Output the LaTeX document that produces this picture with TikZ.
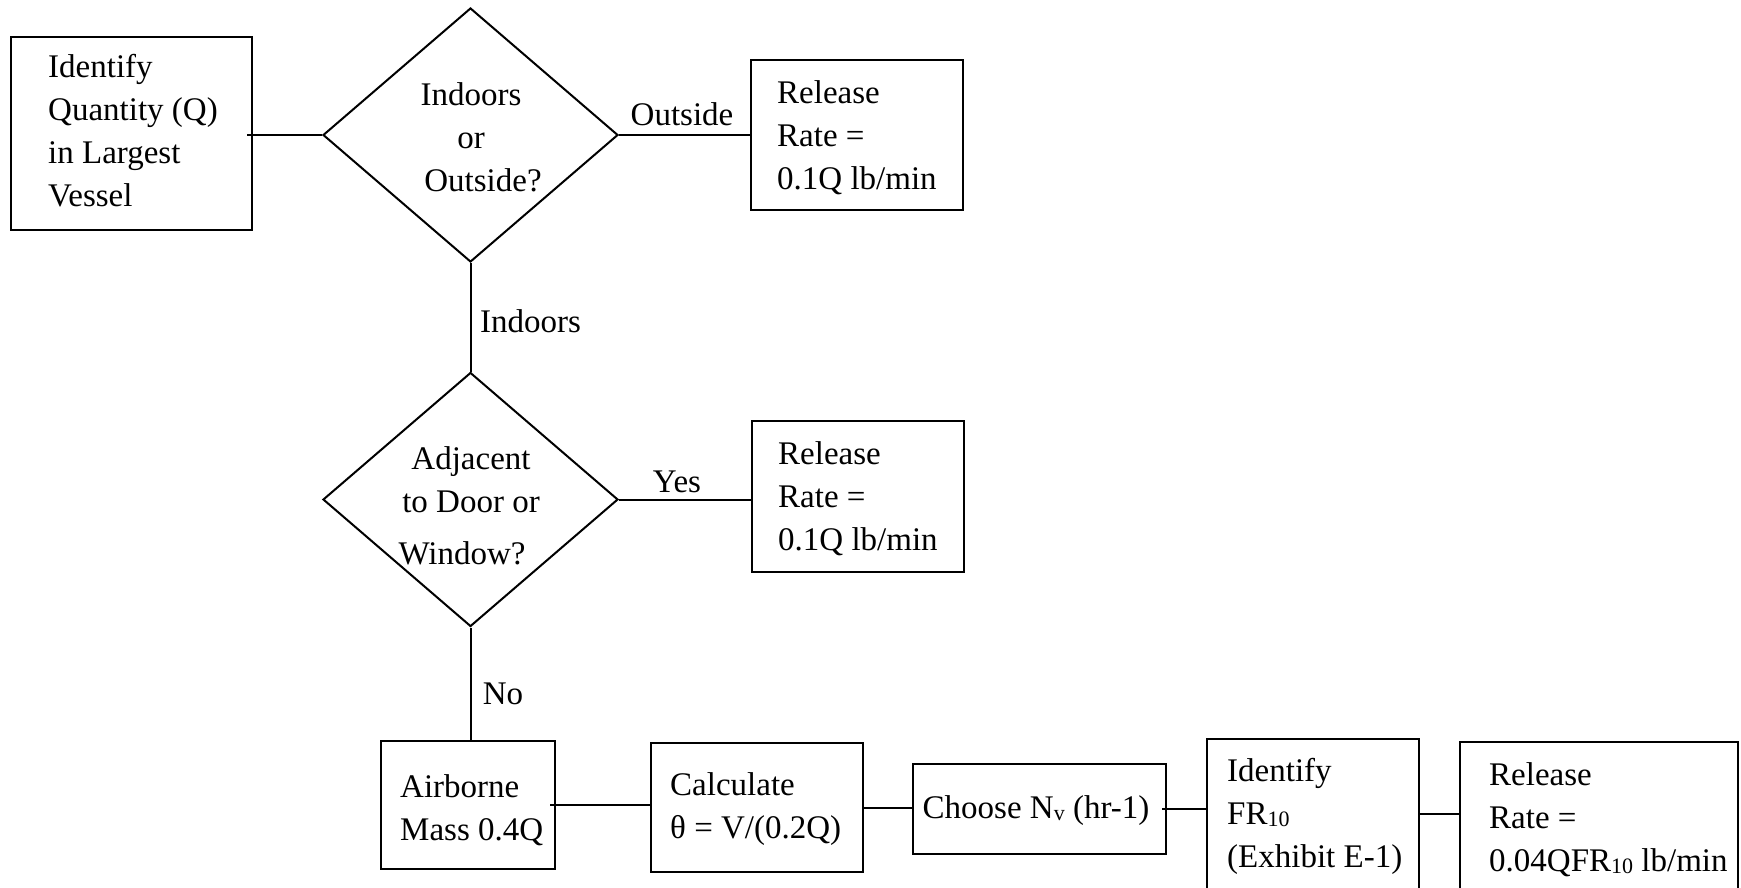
\documentclass[tikz,border=0pt]{standalone}
\usepackage{fontspec}
\setmainfont{Liberation Serif}
\usetikzlibrary{shapes.geometric,calc}
\newcommand{\smallsub}[1]{\raisebox{-2pt}{\fontsize{22}{22}\selectfont #1}}
\begin{document}
\begin{tikzpicture}[x=1pt,y=-1pt,
  box/.style={draw, line width=2pt, rectangle, inner sep=0pt},
  dia/.style={draw, line width=2pt, diamond, inner sep=0pt, minimum width=295pt, minimum height=254pt},
  txt/.style={font=\fontsize{33}{43}\selectfont, inner sep=0pt, align=left},
  ctxt/.style={font=\fontsize{33}{43}\selectfont, inner sep=0pt, align=center},
  lbl/.style={font=\fontsize{33}{43}\selectfont, inner sep=0pt},
  conn/.style={line width=2pt}]
\useasboundingbox (0,0) rectangle (1741,888);
\fill[white] (0,0) rectangle (1741,888);
\clip (0,0) rectangle (1741,888);

% boxes and diamonds
\node[box, minimum width=241pt, minimum height=193pt] (b1) at (131.5,133.5) {};
\node[txt, anchor=west] (t1) at (48,131) {Identify\\Quantity (Q)\\in Largest\\Vessel};

\node[dia] (d1) at (470.5,135) {};
\node[ctxt] (t2) at (471,137) {Indoors\\or\\\hspace*{24pt}Outside?};

\node[box, minimum width=212pt, minimum height=150pt] (b2) at (857,135) {};
\node[txt, anchor=west] (t3) at (777,138) {Release\\Rate =\\0.1Q lb/min};

\node[dia] (d2) at (470.5,499.5) {};
\node[ctxt] (t4) at (471,506) {Adjacent\\to Door or\\[9pt]Window?\hspace*{18pt}};

\node[box, minimum width=212pt, minimum height=151pt] (b3) at (858,496.5) {};
\node[txt, anchor=west] (t5) at (778,499) {Release\\Rate =\\0.1Q lb/min};

\node[box, minimum width=174pt, minimum height=128pt] (b4) at (468,805) {};
\node[txt, anchor=west] (t6) at (400,810) {Airborne\\Mass 0.4Q};

\node[box, minimum width=212pt, minimum height=129pt] (b5) at (757,807.5) {};
\node[txt, anchor=west] (t7) at (670,809.5) {Calculate\\θ = V/(0.2Q)};

\node[box, minimum width=253pt, minimum height=90pt] (b6) at (1039.5,809) {};
\node[txt] (t8) at (1036,811) {Choose N\smallsub{v} (hr-1)};

\node[box, minimum width=212pt, minimum height=181pt] (b7) at (1313,829.5) {};
\node[txt, anchor=west] (t9) at (1227,816) {Identify\\FR\smallsub{10}\\(Exhibit E-1)};

\node[box, minimum width=278pt, minimum height=178pt] (b8) at (1599,831) {};
\node[txt, anchor=west] (t10) at (1489,820) {Release\\Rate =\\0.04QFR\smallsub{10} lb/min};

% connectors
\draw[conn] ($(b1.east |- d1.west)+(-6,0)$) -- (d1.west);
\draw[conn] (d1.east) -- (d1.east -| b2.west);
\draw[conn] (d1.south) -- (d2.north);
\draw[conn] (d2.east) -- (d2.east -| b3.west);
\draw[conn] (d2.south) -- (d2.south |- b4.north);
\draw[conn] ($(b4.east)+(-6,0)$) -- (b4.east -| b5.west);
\draw[conn] ($(b5.east)+(-2,0)$) -- (b5.east -| b6.west);
\draw[conn] ($(b6.east)+(-5,0)$) -- (b6.east -| b7.west);
\draw[conn] ($(b7.north east)+(0,76)$) -- ($(b7.north east -| b8.west)+(0,76)$);

% labels
\node[lbl] (lout) at (682,114) {Outside};
\node[lbl, anchor=west] (lin) at (480,321) {Indoors};
\node[lbl] (lyes) at (677,482) {Yes};
\node[lbl] (lno) at (503,694) {No};
\end{tikzpicture}
\end{document}
